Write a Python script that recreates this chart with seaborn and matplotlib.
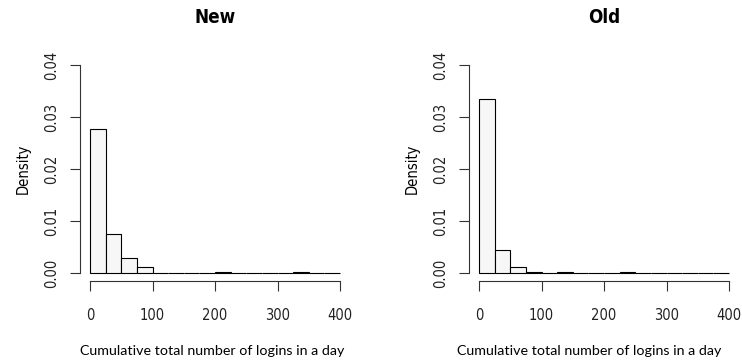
import matplotlib
matplotlib.use("Agg")
import matplotlib.pyplot as plt
import numpy as np
import seaborn as sns

# Histogram bins (width 25, from 0 to 400) and densities
bin_edges = [0, 25, 50, 75, 100, 125, 150, 175, 200, 225, 250, 275, 300, 325, 350, 375, 400]
new_density = [0.0276, 0.0075, 0.0029, 0.00115, 0, 0, 0, 0, 0.0001, 0, 0, 0, 0, 0.0001, 0, 0]
old_density = [0.0334, 0.0044, 0.00115, 0.0002, 0, 0.0001, 0, 0, 0, 0.0001, 0, 0, 0, 0, 0, 0]
titles = ["New", "Old"]
x_ticks = [0, 100, 200, 300, 400]
y_ticks = [0.00, 0.01, 0.02, 0.03, 0.04]
y_labels = ["0.00", "0.01", "0.02", "0.03", "0.04"]

sns.set_style("white")
plt.rcParams['font.family'] = ['DejaVu Sans']
plt.rcParams['text.color'] = 'black'
plt.rcParams['axes.labelcolor'] = 'black'
plt.rcParams['xtick.labelcolor'] = '#222222'
plt.rcParams['ytick.labelcolor'] = '#222222'

fig = plt.figure(figsize=(7.42, 3.62), dpi=100)
axes = [fig.add_axes([80 / 742, 1 - 281.3 / 362, 270 / 742, 224.6 / 362]),
        fig.add_axes([469 / 742, 1 - 281.3 / 362, 270 / 742, 224.6 / 362])]
xlabel_pos = [0.49, 0.446]

mids = [(a + b) / 2 for a, b in zip(bin_edges[:-1], bin_edges[1:])]

for ax, dens, title, lx in zip(axes, [new_density, old_density], titles, xlabel_pos):
    sns.histplot(x=mids, weights=dens, bins=bin_edges, stat="count", ax=ax,
                 color="#f7f7f7", edgecolor="black", linewidth=0.8, alpha=1)
    ax.set_xlim(-16, 416)
    ax.set_ylim(-0.0016, 0.0416)
    for s in ["top", "right"]:
        ax.spines[s].set_visible(False)
    ax.spines["left"].set_bounds(0, 0.04)
    ax.spines["bottom"].set_bounds(0, 400)
    for s in ["left", "bottom"]:
        ax.spines[s].set_color("#333333")
        ax.spines[s].set_linewidth(0.8)
    ax.set_xticks(x_ticks)
    ax.set_xticklabels([str(t) for t in x_ticks], fontsize=10.5, fontstretch="condensed")
    ax.set_yticks(y_ticks)
    ax.set_yticklabels(y_labels, fontsize=10.5, rotation=90, va="center",
                       fontstretch="condensed")
    ax.tick_params(axis="both", direction="out", length=7, width=0.8,
                   color="#333333", left=True, bottom=True)
    ax.tick_params(axis="y", pad=8)
    ax.tick_params(axis="x", pad=12)
    ax.set_title(title, fontsize=13.5, fontweight="bold", pad=24, fontstretch="condensed")
    ax.set_ylabel("Density", fontsize=10.5, labelpad=10, fontstretch="condensed")
    ax.set_xlabel("Cumulative total number of logins in a day", fontsize=10.3,
                  family="Lato")
    ax.xaxis.set_label_coords(lx, -0.285)
    ax.grid(False)

fig.savefig("out.png", dpi=100)
